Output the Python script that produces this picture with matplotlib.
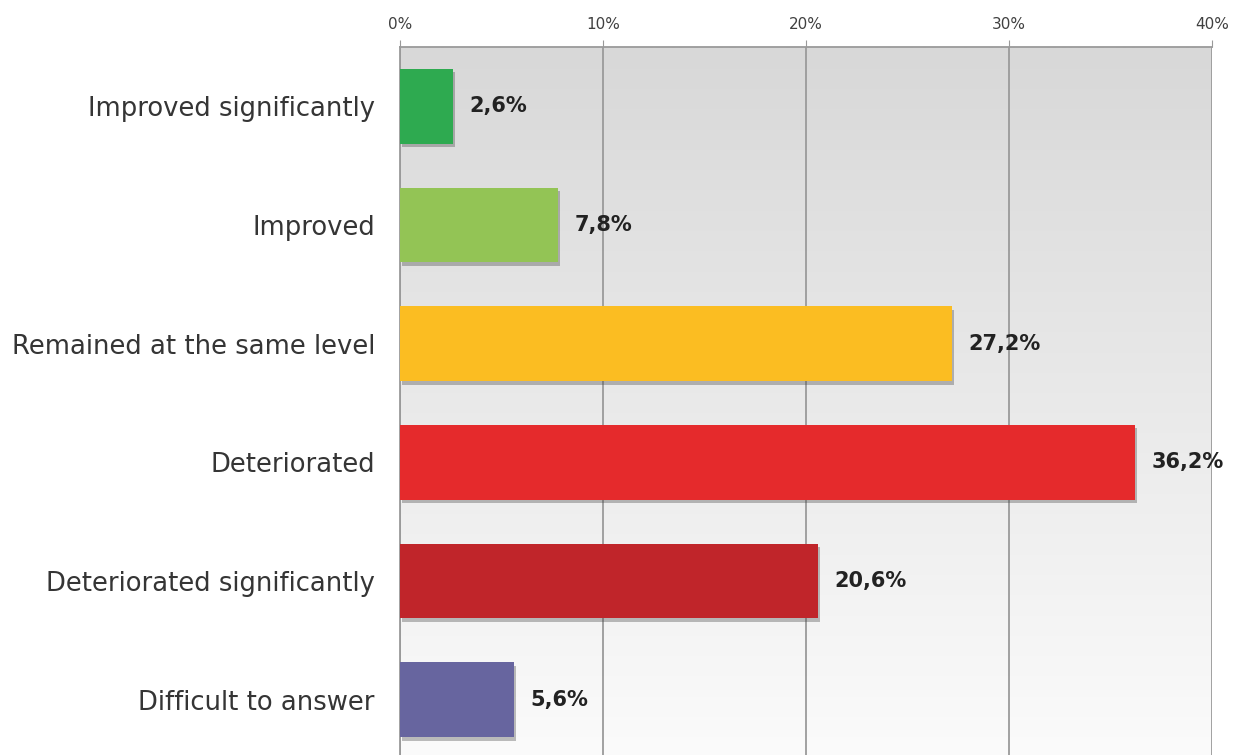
import matplotlib.pyplot as plt
import matplotlib.patheffects as pe
from matplotlib.colors import LinearSegmentedColormap
import numpy as np

categories = ['Improved significantly', 'Improved', 'Remained at the same level',
              'Deteriorated', 'Deteriorated significantly', 'Difficult to answer']
values = [2.6, 7.8, 27.2, 36.2, 20.6, 5.6]
colors = ['#2eaa50', '#93c455', '#fbbd22', '#e52a2c', '#c0252a', '#67659f']
xticks = [0, 10, 20, 30, 40]

plt.rcParams['font.family'] = ['DejaVu Sans']

fig = plt.figure(figsize=(12.39, 7.55), dpi=100)
ax = fig.add_axes([400 / 1239, -4 / 755, 812 / 1239, 712 / 755])

y = np.arange(len(categories))
ax.set_xlim(0, 40)
ax.set_ylim(len(categories) - 0.5, -0.5)

# gray-to-white background gradient
grad = np.linspace(0, 1, 256).reshape(-1, 1)
bg = LinearSegmentedColormap.from_list('bg', ['#d8d8d8', '#fbfbfb'])
ax.imshow(grad, cmap=bg, aspect='auto',
          extent=[0, 40, len(categories) - 0.5, -0.5], zorder=0)

for x in xticks:
    ax.axvline(x, color='#9a9a9a', lw=1.3, zorder=1)

bars = ax.barh(y, values, height=0.63, color=colors, zorder=3)
for b in bars:
    b.set_path_effects([pe.SimplePatchShadow(offset=(1.5, -2.5), shadow_rgbFace='#444444', alpha=0.35),
                        pe.Normal()])

for yi, v in zip(y, values):
    ax.text(v + 0.8, yi, f'{v:.1f}%'.replace('.', ','), va='center', ha='left',
            fontsize=15, fontweight='bold', color='#222222', zorder=4)

ax.xaxis.tick_top()
ax.set_xticks(xticks)
ax.set_xticklabels([f'{x}%' for x in xticks], fontsize=11, color='#404040')
ax.tick_params(axis='x', length=5, color='#9a9a9a', pad=6)
ax.set_yticks(y)
ax.set_yticklabels(categories, fontsize=18.6, color='#353535')
ax.tick_params(axis='y', length=0, pad=18)

for side in ['bottom', 'right']:
    ax.spines[side].set_visible(False)
for side in ['top', 'left']:
    ax.spines[side].set_color('#9a9a9a')
    ax.spines[side].set_linewidth(1.3)

fig.savefig('out.png', dpi=100)
